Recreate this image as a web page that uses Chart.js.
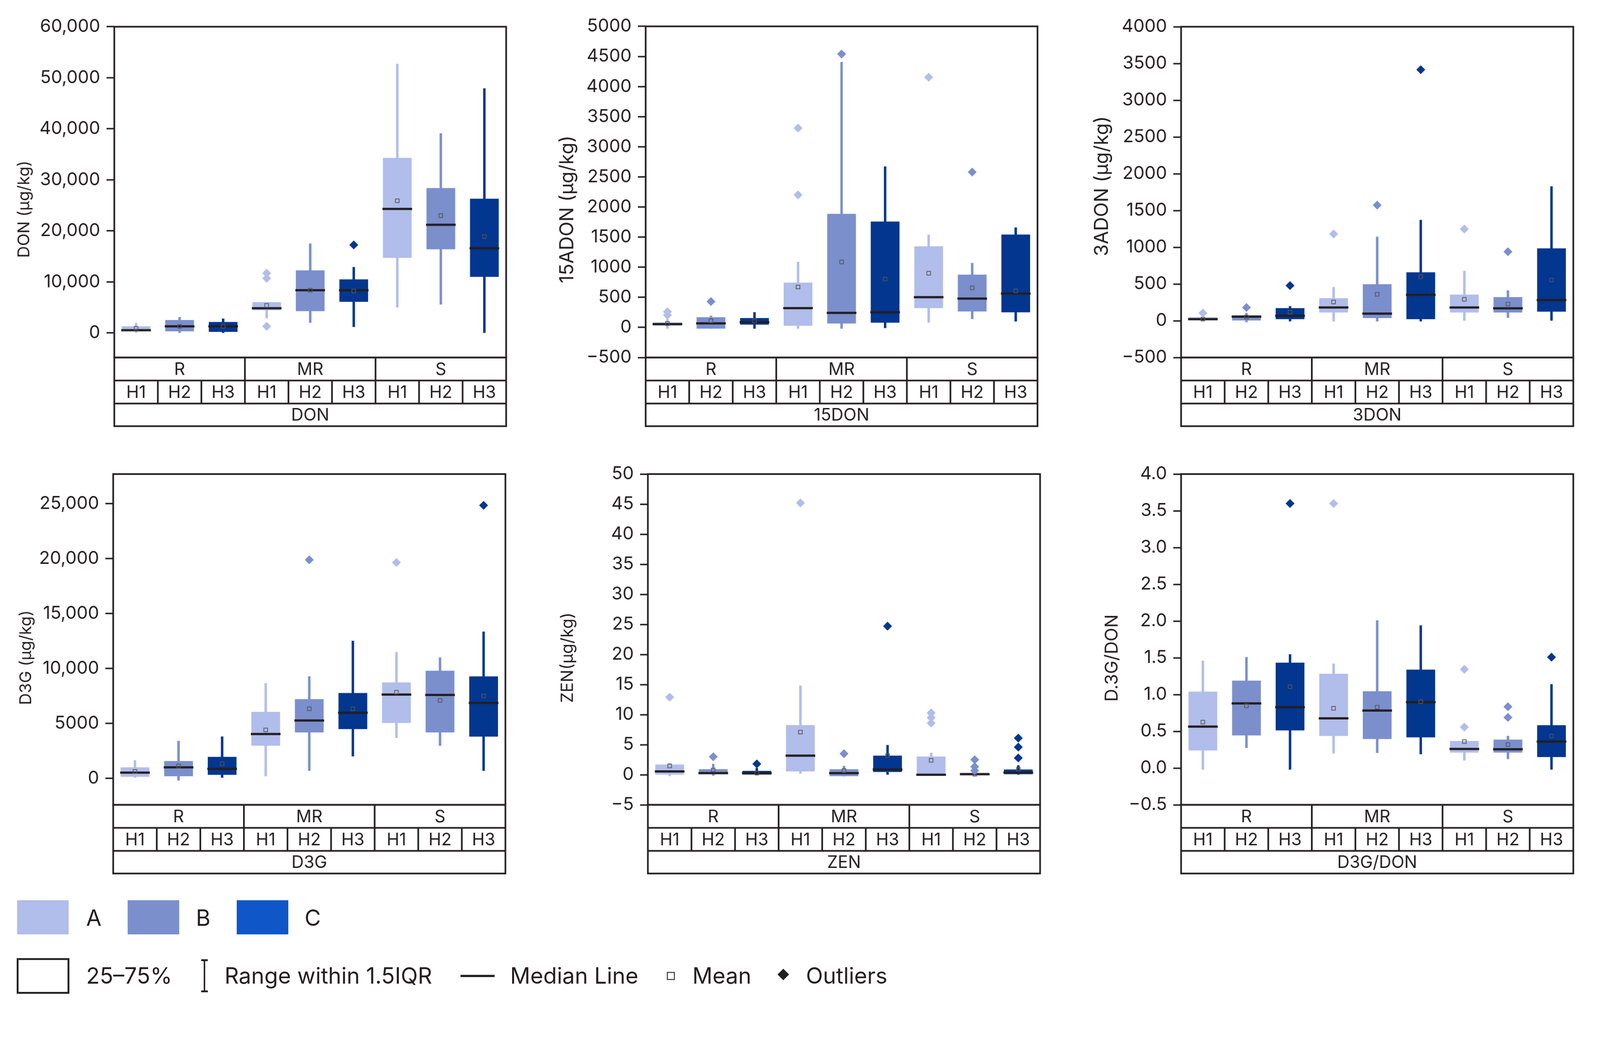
<!DOCTYPE html>
<html>
<head>
<meta charset="utf-8">
<script src="https://cdn.jsdelivr.net/npm/chart.js@4.4.1/dist/chart.umd.min.js"></script>
<style>
  html, body { margin: 0; padding: 0; background: #fff; overflow: hidden; }
  #page { position: absolute; left: 0; top: 0; width: 4312px; height: 2697px; overflow: hidden;
          transform-origin: 0 0; font-family: Inter, "Liberation Sans", sans-serif; color: #231f20; background: #fff; }
  canvas { position: absolute; }
  .sw { position: absolute; }
  .lt { position: absolute; font-size: 60px; line-height: 60px; white-space: nowrap; }
</style>
</head>
<body>
<div id="page">
<canvas id="don"></canvas>
<canvas id="adon15"></canvas>
<canvas id="adon3"></canvas>
<canvas id="d3g"></canvas>
<canvas id="zen"></canvas>
<canvas id="ratio"></canvas>

<!-- legend -->
<div class="sw" style="left:46px;top:2425px;width:139px;height:92px;background:#b1bdea"></div>
<div class="lt" style="left:232px;top:2442px">A</div>
<div class="sw" style="left:344px;top:2425px;width:139px;height:92px;background:#7b8fcd"></div>
<div class="lt" style="left:528px;top:2442px">B</div>
<div class="sw" style="left:638px;top:2425px;width:139px;height:92px;background:#0f57c9"></div>
<div class="lt" style="left:821px;top:2442px">C</div>

<div class="sw" style="left:45px;top:2581px;width:132px;height:86px;border:5px solid #231f20"></div>
<div class="lt" style="left:232px;top:2598px">25–75%</div>
<div class="sw" style="left:549px;top:2585px;width:4px;height:86px;background:#231f20"></div>
<div class="sw" style="left:542px;top:2584px;width:18px;height:5px;background:#231f20"></div>
<div class="sw" style="left:542px;top:2668px;width:18px;height:5px;background:#231f20"></div>
<div class="lt" style="left:605px;top:2598px">Range within 1.5IQR</div>
<div class="sw" style="left:1241px;top:2626px;width:92px;height:6px;background:#231f20"></div>
<div class="lt" style="left:1375px;top:2598px">Median Line</div>
<div class="sw" style="left:1797px;top:2618px;width:16px;height:16px;border:3px solid #4d4d4d"></div>
<div class="lt" style="left:1866px;top:2598px">Mean</div>
<div class="sw" style="left:2100px;top:2614px;width:22px;height:22px;background:#231f20;transform:rotate(45deg)"></div>
<div class="lt" style="left:2172px;top:2598px">Outliers</div>
</div>

<script>
// categories
const groups = ['R', 'MR', 'S'];
const harvests = ['H1', 'H2', 'H3'];
const labels = ['R H1', 'R H2', 'R H3', 'MR H1', 'MR H2', 'MR H3', 'S H1', 'S H2', 'S H3'];
const boxColors = ['#b1bdea', '#7b8fcd', '#02368f'];
const ink = '#231f20';

// DON (µg/kg)
const donLow = [0, 0, 0, 2900, 2000, 1200, 5000, 5600, 0];
const donQ1 = [380, 320, 220, 4450, 4270, 6100, 14700, 16400, 11000];
const donMedian = [540, 1300, 1300, 4860, 8380, 8380, 24300, 21200, 16600];
const donQ3 = [1300, 2540, 2160, 6050, 12270, 10500, 34300, 28400, 26300];
const donHigh = [2000, 3100, 2800, 6050, 17500, 12900, 52700, 39100, 47900];
const donMean = [920, 1300, 1300, 5400, 8380, 8200, 25900, 23000, 18900];
const donOutliers = [[3, 11700], [3, 10700], [3, 1300], [5, 17250]];
const donTicks = [0, 10000, 20000, 30000, 40000, 50000, 60000];
const donTickText = ['0', '10,000', '20,000', '30,000', '40,000', '50,000', '60,000'];

// 15ADON (µg/kg)
const a15Low = [-20, -20, -20, -20, -20, -10, 80, 140, 100];
const a15Q1 = [27, -20, 46, 27, 64, 78, 320, 265, 251];
const a15Median = [55, 68, 87, 320, 242, 251, 502, 479, 562];
const a15Q3 = [82, 169, 155, 744, 1886, 1758, 1347, 877, 1543];
const a15High = [137, 192, 251, 1087, 4406, 2671, 1539, 1068, 1657];
const a15Mean = [64, 110, 110, 671, 1087, 804, 900, 658, 607];
const a15Outliers = [[0, 260], [0, 205], [1, 430], [3, 3310], [3, 2200], [4, 4540], [6, 4155], [7, 2580]];
const a15Ticks = [-500, 0, 500, 1000, 1500, 2000, 2500, 3000, 3500, 4000, 4500, 5000];
const a15TickText = ['\u2212500', '0', '500', '1000', '1500', '2000', '2500', '3000', '3500', '4000', '4500', '5000'];

// 3ADON (µg/kg)
const a3Low = [-5, -19, -7, -7, -7, -7, 0, 41, 0];
const a3Q1 = [7, 4, 22, 112, 37, 22, 112, 112, 124];
const a3Median = [22, 56, 67, 180, 97, 352, 180, 169, 281];
const a3Q3 = [49, 75, 172, 307, 498, 659, 356, 322, 985];
const a3High = [60, 105, 198, 457, 1142, 1371, 678, 412, 1828];
const a3Mean = [22, 49, 116, 255, 360, 599, 292, 228, 554];
const a3Outliers = [[0, 105], [1, 180], [2, 479], [3, 1180], [4, 1573], [5, 3415], [6, 1247], [7, 940]];
const a3Ticks = [-500, 0, 500, 1000, 1500, 2000, 2500, 3000, 3500, 4000];
const a3TickText = ['\u2212500', '0', '500', '1000', '1500', '2000', '2500', '3000', '3500', '4000'];

// D3G (µg/kg)
const d3gLow = [76, -180, 76, 200, 700, 2020, 3690, 2980, 700];
const d3gQ1 = [150, 200, 330, 2980, 4190, 4490, 5050, 4190, 3810];
const d3gMedian = [530, 1010, 880, 4040, 5280, 5980, 7630, 7600, 6870];
const d3gQ3 = [1010, 1590, 1970, 6060, 7220, 7780, 8740, 9800, 9290];
const d3gHigh = [1640, 3410, 3810, 8660, 9290, 12520, 11490, 11010, 13360];
const d3gMean = [630, 1140, 1340, 4420, 6340, 6340, 7850, 7100, 7520];
const d3gOutliers = [[4, 19900], [6, 19650], [8, 24850]];
const d3gTicks = [0, 5000, 10000, 15000, 20000, 25000];
const d3gTickText = ['0', '5000', '10,000', '15,000', '20,000', '25,000'];

// ZEN (µg/kg)
const zenLow = [-0.2, -0.15, 0, 0.2, -0.25, 0, -0.05, -0.05, 0];
const zenQ1 = [0, 0.09, 0, 0.55, -0.23, 0.46, -0.05, -0.05, 0.09];
const zenMedian = [0.55, 0.28, 0.28, 3.18, 0.28, 0.88, 0, 0.09, 0.37];
const zenQ3 = [1.7, 0.92, 0.65, 8.25, 0.92, 3.18, 3.04, 0.32, 0.88];
const zenHigh = [1.9, 1.8, 1.1, 14.8, 1.47, 4.93, 3.64, 0.4, 1.57];
const zenMean = [1.47, 0.78, 0.28, 7.1, 0.69, 3.18, 2.4, 0.09, 0.92];
const zenOutliers = [[0, 12.9], [1, 3.0], [2, 1.8], [3, 45.2], [4, 3.5], [5, 24.7], [6, 10.3], [6, 9.5], [6, 8.6],
                     [7, 2.5], [7, 1.35], [7, 0.7], [8, 6.1], [8, 4.6], [8, 2.8]];
const zenTicks = [-5, 0, 5, 10, 15, 20, 25, 30, 35, 40, 45, 50];
const zenTickText = ['\u22125', '0', '5', '10', '15', '20', '25', '30', '35', '40', '45', '50'];

// D3G/DON ratio
const ratioLow = [-0.02, 0.275, -0.02, 0.2, 0.207, 0.19, 0.105, 0.124, -0.02];
const ratioQ1 = [0.24, 0.444, 0.512, 0.437, 0.395, 0.418, 0.211, 0.211, 0.15];
const ratioMedian = [0.564, 0.88, 0.828, 0.677, 0.783, 0.896, 0.26, 0.256, 0.361];
const ratioQ3 = [1.04, 1.19, 1.434, 1.283, 1.046, 1.34, 0.369, 0.388, 0.583];
const ratioHigh = [1.46, 1.51, 1.547, 1.42, 2.01, 1.94, 0.369, 0.437, 1.14];
const ratioMean = [0.625, 0.847, 1.106, 0.813, 0.828, 0.903, 0.361, 0.32, 0.436];
const ratioOutliers = [[2, 3.6], [3, 3.6], [6, 1.343], [6, 0.557], [7, 0.835], [7, 0.689], [8, 1.509]];
const ratioTicks = [-0.5, 0, 0.5, 1, 1.5, 2, 2.5, 3, 3.5, 4];
const ratioTickText = ['\u22120.5', '0.0', '0.5', '1.0', '1.5', '2.0', '2.5', '3.0', '3.5', '4.0'];

Chart.defaults.font.family = 'Inter, "Liberation Sans", sans-serif';
Chart.defaults.color = ink;

const panels = [
  { id: 'don', title: 'DON (\u03bcg/kg)', name: 'DON', low: donLow, q1: donQ1, median: donMedian, q3: donQ3,
    high: donHigh, mean: donMean, outliers: donOutliers, ticks: donTicks, tickText: donTickText,
    min: -4800, max: 60000, left: 308, right: 1398, top: 66, bottom: 963, titleSize: 44, titleDx: 242, titleDy: 46 },
  { id: 'adon15', title: '15ADON (\u03bcg/kg)', name: '15DON', low: a15Low, q1: a15Q1, median: a15Median, q3: a15Q3,
    high: a15High, mean: a15Mean, outliers: a15Outliers, ticks: a15Ticks, tickText: a15TickText,
    min: -500, max: 5000, left: 1740, right: 2830, top: 65, bottom: 963, titleSize: 52, titleDx: 211, titleDy: 47 },
  { id: 'adon3', title: '3ADON (\u03bcg/kg)', name: '3DON', low: a3Low, q1: a3Q1, median: a3Median, q3: a3Q3,
    high: a3High, mean: a3Mean, outliers: a3Outliers, ticks: a3Ticks, tickText: a3TickText,
    min: -500, max: 4000, left: 3183, right: 4274, top: 66, bottom: 963, titleSize: 52, titleDx: 213, titleDy: -16 },
  { id: 'd3g', title: 'D3G (\u03bcg/kg)', name: 'D3G', low: d3gLow, q1: d3gQ1, median: d3gMedian, q3: d3gQ3,
    high: d3gHigh, mean: d3gMean, outliers: d3gOutliers, ticks: d3gTicks, tickText: d3gTickText,
    min: -2400, max: 27700, left: 305, right: 1396, top: 1271, bottom: 2168, titleSize: 44, titleDx: 234, titleDy: 49 },
  { id: 'zen', title: 'ZEN(\u03bcg/kg)', name: 'ZEN', low: zenLow, q1: zenQ1, median: zenMedian, q3: zenQ3,
    high: zenHigh, mean: zenMean, outliers: zenOutliers, ticks: zenTicks, tickText: zenTickText,
    min: -5, max: 50, left: 1746, right: 2837, top: 1271, bottom: 2168, titleSize: 45, titleDx: 216, titleDy: 49 },
  { id: 'ratio', title: 'D.3G/DON', name: 'D3G/DON', low: ratioLow, q1: ratioQ1, median: ratioMedian, q3: ratioQ3,
    high: ratioHigh, mean: ratioMean, outliers: ratioOutliers, ticks: ratioTicks, tickText: ratioTickText,
    min: -0.5, max: 4, left: 3183, right: 4274, top: 1271, bottom: 2168, titleSize: 48, titleDx: 185, titleDy: 50 }
];

const rowHeights = [62, 62, 61];

// fit the 4312 x 2697 page into whatever viewport we actually get
let fitPage = () => {
  const page = document.getElementById('page');
  const s = Math.min(window.innerWidth / 4312, window.innerHeight / 2697);
  if (Math.abs(s - 1) > 0.002) page.style.transform = 'scale(' + s + ')';
};

let tableAndFrame = (p) => ({
  id: 'tableAndFrame',
  afterDraw(chart) {
    const ctx = chart.ctx, a = chart.chartArea, x = chart.scales.x;
    ctx.save();
    ctx.strokeStyle = ink;
    ctx.lineWidth = 4.5;
    ctx.strokeRect(a.left, a.top, a.right - a.left, a.bottom - a.top);

    const y0 = a.bottom, y1 = y0 + rowHeights[0], y2 = y1 + rowHeights[1], y3 = y2 + rowHeights[2];
    ctx.strokeRect(a.left, y0, a.right - a.left, y3 - y0);
    ctx.beginPath();
    ctx.moveTo(a.left, y1); ctx.lineTo(a.right, y1);
    ctx.moveTo(a.left, y2); ctx.lineTo(a.right, y2);
    for (let i = 0; i < labels.length - 1; i++) {
      const bx = (x.getPixelForValue(i) + x.getPixelForValue(i + 1)) / 2;
      ctx.moveTo(bx, (i % 3 === 2) ? y0 : y1);
      ctx.lineTo(bx, y2);
    }
    ctx.stroke();

    ctx.fillStyle = ink;
    ctx.textAlign = 'center';
    ctx.textBaseline = 'middle';
    ctx.font = '46px Inter, "Liberation Sans", sans-serif';
    groups.forEach((g, gi) => {
      ctx.fillText(g, x.getPixelForValue(gi * 3 + 1), (y0 + y1) / 2 + 2);
    });
    labels.forEach((l, i) => {
      ctx.fillText(harvests[i % 3], x.getPixelForValue(i), (y1 + y2) / 2 + 2);
    });
    ctx.fillText(p.name, (a.left + a.right) / 2, (y2 + y3) / 2 + 2);

    // y axis title
    ctx.translate(a.left - p.titleDx, (a.top + a.bottom) / 2 + p.titleDy);
    ctx.rotate(-Math.PI / 2);
    ctx.font = p.titleSize + 'px Inter, "Liberation Sans", sans-serif';
    ctx.fillText(p.title, 0, 0);
    ctx.restore();
  }
});

let drawPanel = (p) => {
  const canvas = document.getElementById(p.id);
  const padL = 300, padT = 40, padR = 12, padB = 200;
  const plotW = p.right - p.left, plotH = p.bottom - p.top;
  canvas.width = plotW + padL + padR;
  canvas.height = plotH + padT + padB;
  canvas.style.left = (p.left - padL) + 'px';
  canvas.style.top = (p.top - padT) + 'px';
  const colors = labels.map((l, i) => boxColors[i % 3]);
  const halfBox = plotW / labels.length * 0.33;

  new Chart(canvas, {
    type: 'bar',
    data: {
      labels: labels,
      datasets: [
        { type: 'bar', data: p.low.map((v, i) => [v, p.high[i]]), backgroundColor: colors,
          barThickness: 6, grouped: false, order: 5 },
        { type: 'bar', data: p.q1.map((v, i) => [v, p.q3[i]]), backgroundColor: colors,
          barPercentage: 0.66, categoryPercentage: 1, grouped: false, order: 4 },
        { type: 'line', data: p.median, showLine: false, pointStyle: 'line', pointRadius: halfBox,
          pointBorderWidth: 6, pointBorderColor: ink, order: 3 },
        { type: 'line', data: p.mean, showLine: false, pointStyle: 'rect', pointRadius: 7,
          pointBorderWidth: 2, pointBorderColor: '#555555', pointBackgroundColor: 'rgba(0,0,0,0)', order: 2 },
        { type: 'line', data: p.outliers.map(o => ({ x: labels[o[0]], y: o[1] })), showLine: false,
          pointStyle: 'rectRot', pointRadius: 12, pointBorderWidth: 0,
          pointBackgroundColor: p.outliers.map(o => boxColors[o[0] % 3]), order: 1 }
      ]
    },
    options: {
      responsive: false,
      animation: false,
      layout: { padding: { left: 0, top: padT, right: padR, bottom: padB } },
      plugins: { legend: { display: false }, tooltip: { enabled: false } },
      scales: {
        x: { display: false, offset: true },
        y: {
          min: p.min, max: p.max,
          border: { display: false },
          grid: { drawOnChartArea: false, drawTicks: true, tickLength: 21, tickWidth: 4, tickColor: ink },
          ticks: { font: { size: 48 }, color: ink, padding: 17,
                   callback: (v) => p.tickText[p.ticks.indexOf(v)] },
          afterBuildTicks: (ax) => { ax.ticks = p.ticks.map(v => ({ value: v })); },
          afterFit: (ax) => { ax.width = padL; }
        }
      }
    },
    plugins: [tableAndFrame(p)]
  });
};

fitPage();
panels.forEach(drawPanel);
</script>
</body>
</html>
